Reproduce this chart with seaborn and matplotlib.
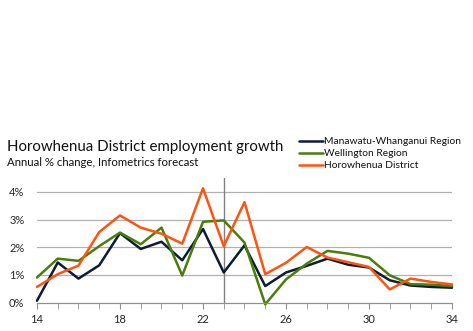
import numpy as np
import pandas as pd
import matplotlib
matplotlib.use("Agg")
import matplotlib.pyplot as plt
import seaborn as sns

years = list(range(14, 35))
manawatu = [0.07, 1.45, 0.87, 1.35, 2.51, 1.94, 2.20, 1.53, 2.66, 1.09,
            2.07, 0.60, 1.09, 1.33, 1.59, 1.37, 1.27, 0.81, 0.62, 0.57, 0.54]
wellington = [0.91, 1.59, 1.51, 2.04, 2.53, 2.11, 2.71, 0.98, 2.92, 2.97,
              2.17, -0.06, 0.84, 1.41, 1.87, 1.77, 1.62, 0.99, 0.67, 0.65, 0.60]
horowhenua = [0.57, 1.03, 1.34, 2.55, 3.15, 2.71, 2.49, 2.13, 4.13, 2.04,
              3.63, 1.03, 1.44, 2.01, 1.63, 1.46, 1.29, 0.48, 0.87, 0.75, 0.66]
series_names = ["Manawatu-Whanganui Region", "Wellington Region", "Horowhenua District"]
tick_years = [14, 18, 22, 26, 30, 34]
ytick_vals = [0, 1, 2, 3, 4]
ytick_labels = ["0%", "1%", "2%", "3%", "4%"]
forecast_year = 23

df = pd.DataFrame({
    "year": years * 3,
    "value": manawatu + wellington + horowhenua,
    "series": [series_names[0]] * len(years) + [series_names[1]] * len(years) + [series_names[2]] * len(years),
})

sns.set_style("white")
plt.rcParams["font.family"] = ["Lato", "DejaVu Sans"]

colors = {series_names[0]: "#0c1c33", series_names[1]: "#4a7d0c", series_names[2]: "#ff5410"}

fig = plt.figure(figsize=(4.73, 3.31), dpi=100)
ax = fig.add_axes([0.0782, 0.0855, 0.8774, 0.3767])

sns.lineplot(data=df, x="year", y="value", hue="series", palette=colors,
             hue_order=series_names, ax=ax, linewidth=1.8, legend=False, clip_on=False)

ax.set_xlim(14, 34)
ax.set_ylim(0, 4.5)
ax.set_yticks(ytick_vals)
ax.set_yticklabels(ytick_labels)
ax.set_xticks(years, minor=True)
ax.set_xticks(tick_years)
ax.set_xticklabels([str(t) for t in tick_years])
for y in ytick_vals[1:]:
    ax.axhline(y, color="#b0b0b0", linewidth=0.9, zorder=0)
ax.axvline(forecast_year, color="#808080", linewidth=1.0, zorder=0)

for s in ["top", "right", "left"]:
    ax.spines[s].set_visible(False)
ax.spines["bottom"].set_color("#909090")
ax.spines["bottom"].set_linewidth(0.9)
ax.tick_params(axis="x", which="both", direction="out", length=4, color="#909090",
               labelsize=8, pad=4, bottom=True)
ax.tick_params(axis="y", length=0, labelsize=8, pad=9)
ax.set_xlabel("")
ax.set_ylabel("")

fig.text(0.015, 0.5447, "Horowhenua District employment growth", fontsize=10.8, color="#111111",
         va="baseline")
fig.text(0.015, 0.4985, "Annual % change, Infometrics forecast", fontsize=8.2, color="#111111",
         va="baseline")

line_y = [0.575, 0.539, 0.5025]
text_y = [0.565, 0.529, 0.4924]
for name, ly, ty in zip(series_names, line_y, text_y):
    fig.add_artist(plt.Line2D([0.632, 0.683], [ly, ly], color=colors[name], linewidth=1.8))
    fig.text(0.685, ty, name, fontsize=7.35, color="#111111", va="baseline")

fig.savefig("out.png", dpi=100)
